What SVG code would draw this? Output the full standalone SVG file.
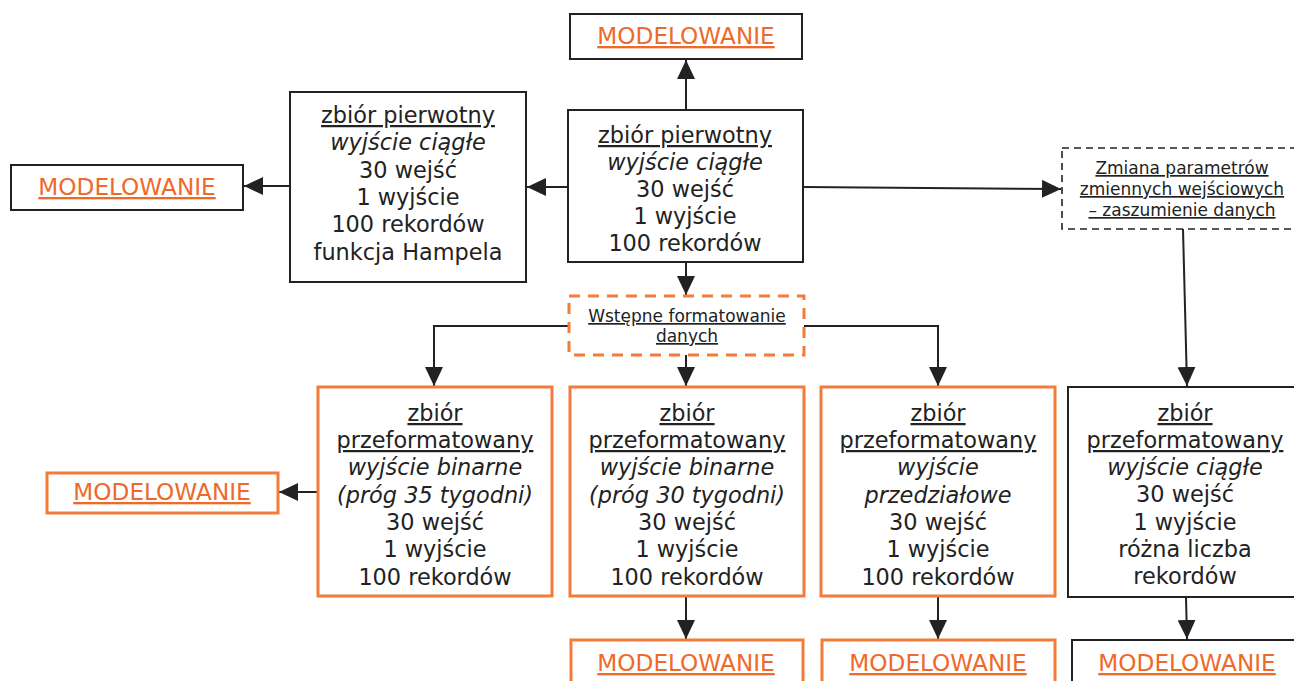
<svg xmlns="http://www.w3.org/2000/svg" width="1294" height="681" viewBox="0 0 1294 681">
  <style>
    text { font-family: "DejaVu Sans", Verdana, sans-serif; font-size: 22.4px; fill: #222; text-anchor: middle; }
    .u { text-decoration: underline; }
    .i { font-style: italic; }
    .m { fill: #EE6A2A; text-decoration: underline; font-size: 23.2px; }
    .s { font-size: 17px; }
    .bk { fill: #fff; stroke: #222; stroke-width: 2; }
    .or { fill: #fff; stroke: #F47B3A; stroke-width: 3; }
    .dk { fill: #fff; stroke: #222; stroke-width: 1.6; stroke-dasharray: 7 5; }
    .do { fill: #fff; stroke: #F47B3A; stroke-width: 3; stroke-dasharray: 11 8; }
    .c { fill: none; stroke: #222; stroke-width: 2; marker-end: url(#ah); }
  </style>
  <defs>
    <marker id="ah" markerUnits="userSpaceOnUse" markerWidth="20" markerHeight="18" refX="19" refY="9" orient="auto">
      <path d="M0,0 L19,9 L0,18 Z" fill="#222"/>
    </marker>
  </defs>
  <rect width="1294" height="681" fill="#fff"/>

  <g id="connectors">
    <path class="c" d="M686,110 V60"/>
    <path class="c" d="M568,187 H527"/>
    <path class="c" d="M290,186 H244"/>
    <path class="c" d="M803,187 L1061,189"/>
    <path class="c" d="M1183,229 L1187,386"/>
    <path class="c" d="M686,262 V295"/>
    <path class="c" d="M569,326 H434 V386"/>
    <path class="c" d="M686,355 V386"/>
    <path class="c" d="M804,326 H938 V386"/>
    <path class="c" d="M318,492 H279"/>
    <path class="c" d="M686,596 V639"/>
    <path class="c" d="M938,596 V639"/>
    <path class="c" d="M1186,597 L1187,639"/>
  </g>

  <g id="model-top">
    <rect class="bk" x="570" y="14" width="232" height="45"/>
    <text class="m" x="686" y="44">MODELOWANIE</text>
  </g>

  <g id="model-left">
    <rect class="bk" x="11" y="165" width="232" height="45"/>
    <text class="m" x="127" y="195">MODELOWANIE</text>
  </g>

  <g id="hampel">
    <rect class="bk" x="290" y="92" width="236" height="190"/>
    <text x="408" y="123" class="u">zbiór pierwotny</text>
    <text x="408" y="150" class="i">wyjście ciągłe</text>
    <text x="408" y="178">30 wejść</text>
    <text x="408" y="205">1 wyjście</text>
    <text x="408" y="232">100 rekordów</text>
    <text x="408" y="260">funkcja Hampela</text>
  </g>

  <g id="source">
    <rect class="bk" x="568" y="110" width="235" height="152"/>
    <text x="685" y="143" class="u">zbiór pierwotny</text>
    <text x="685" y="170" class="i">wyjście ciągłe</text>
    <text x="685" y="197">30 wejść</text>
    <text x="685" y="224">1 wyjście</text>
    <text x="685" y="251">100 rekordów</text>
  </g>

  <g id="noise">
    <rect class="dk" x="1062" y="148" width="242" height="81"/>
    <text class="s u" x="1182" y="174">Zmiana parametrów</text>
    <text class="s u" x="1182" y="195">zmiennych wejściowych</text>
    <text class="s u" x="1182" y="216">– zaszumienie danych</text>
  </g>

  <g id="preformat">
    <rect class="do" x="569" y="296" width="235" height="59"/>
    <text class="s u" x="687" y="322">Wstępne formatowanie</text>
    <text class="s u" x="687" y="342">danych</text>
  </g>

  <g id="bin35">
    <rect class="or" x="318" y="387" width="234" height="209"/>
    <text x="435" y="421" class="u">zbiór</text>
    <text x="435" y="448" class="u">przeformatowany</text>
    <text x="435" y="475" class="i">wyjście binarne</text>
    <text x="435" y="503" class="i">(próg 35 tygodni)</text>
    <text x="435" y="530">30 wejść</text>
    <text x="435" y="557">1 wyjście</text>
    <text x="435" y="585">100 rekordów</text>
  </g>

  <g id="bin30">
    <rect class="or" x="570" y="387" width="234" height="209"/>
    <text x="687" y="421" class="u">zbiór</text>
    <text x="687" y="448" class="u">przeformatowany</text>
    <text x="687" y="475" class="i">wyjście binarne</text>
    <text x="687" y="503" class="i">(próg 30 tygodni)</text>
    <text x="687" y="530">30 wejść</text>
    <text x="687" y="557">1 wyjście</text>
    <text x="687" y="585">100 rekordów</text>
  </g>

  <g id="interval">
    <rect class="or" x="821" y="387" width="234" height="209"/>
    <text x="938" y="421" class="u">zbiór</text>
    <text x="938" y="448" class="u">przeformatowany</text>
    <text x="938" y="475" class="i">wyjście</text>
    <text x="938" y="503" class="i">przedziałowe</text>
    <text x="938" y="530">30 wejść</text>
    <text x="938" y="557">1 wyjście</text>
    <text x="938" y="585">100 rekordów</text>
  </g>

  <g id="noisy-set">
    <rect class="bk" x="1068" y="387" width="234" height="210"/>
    <text x="1185" y="421" class="u">zbiór</text>
    <text x="1185" y="448" class="u">przeformatowany</text>
    <text x="1185" y="475" class="i">wyjście ciągłe</text>
    <text x="1185" y="502">30 wejść</text>
    <text x="1185" y="530">1 wyjście</text>
    <text x="1185" y="557">różna liczba</text>
    <text x="1185" y="584">rekordów</text>
  </g>

  <g id="model-bin35">
    <rect class="or" x="47" y="473" width="231" height="40"/>
    <text class="m" x="162" y="500">MODELOWANIE</text>
  </g>

  <g id="model-bin30">
    <rect class="or" x="571" y="640" width="232" height="50"/>
    <text class="m" x="686" y="671">MODELOWANIE</text>
  </g>

  <g id="model-interval">
    <rect class="or" x="822" y="640" width="233" height="50"/>
    <text class="m" x="938" y="671">MODELOWANIE</text>
  </g>

  <g id="model-noisy">
    <rect class="bk" x="1072" y="640" width="230" height="50"/>
    <text class="m" x="1187" y="671">MODELOWANIE</text>
  </g>
</svg>
